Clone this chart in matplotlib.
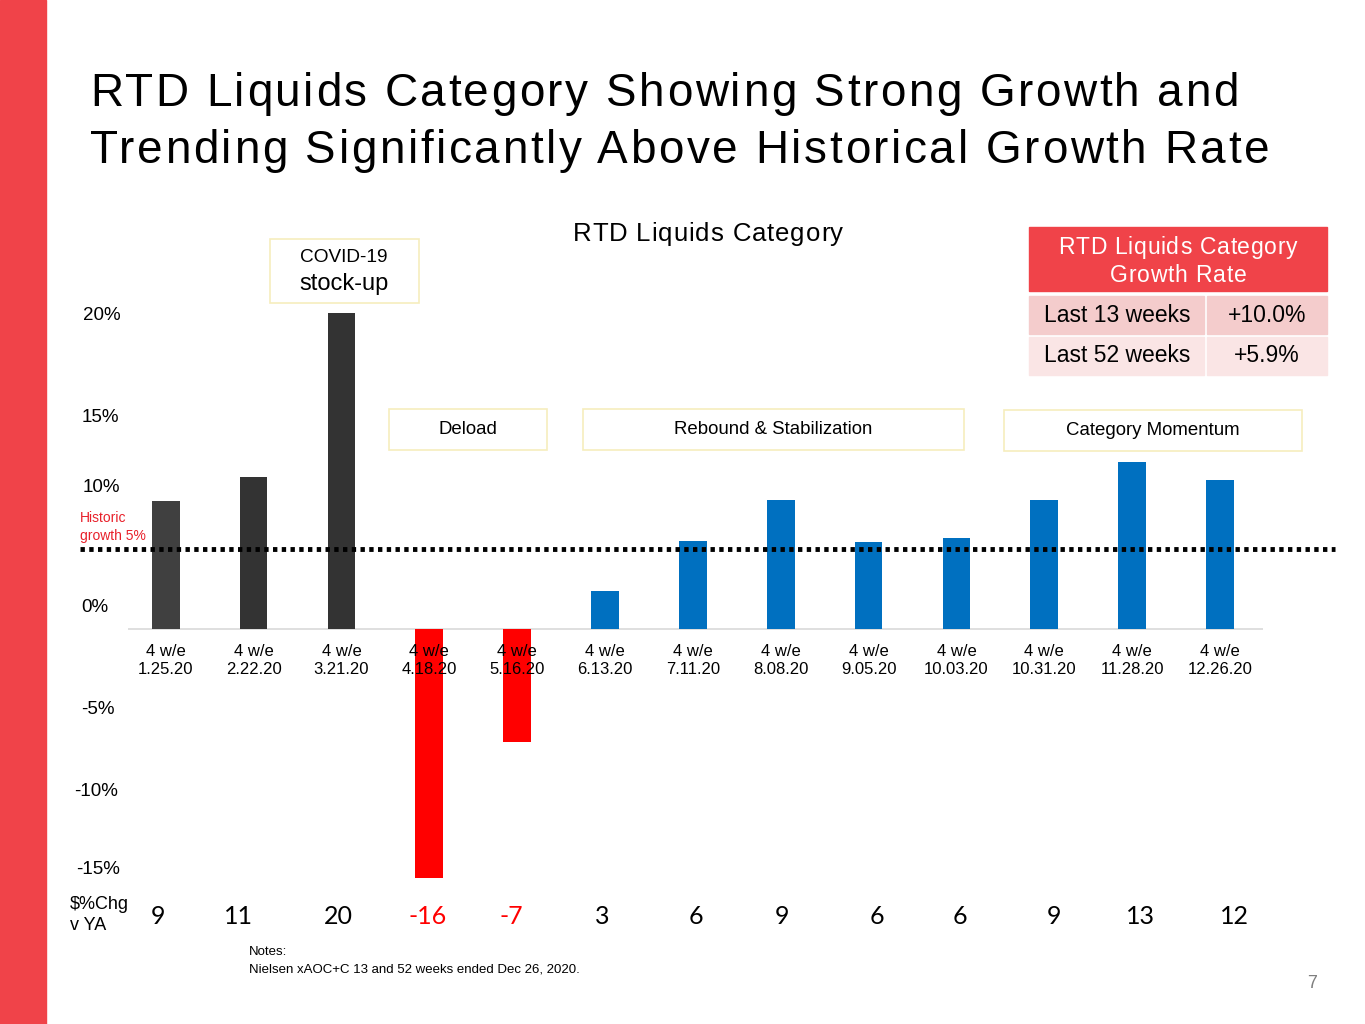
import matplotlib
matplotlib.use("Agg")
import matplotlib.pyplot as plt
from matplotlib.patches import Rectangle
from matplotlib.font_manager import FontProperties

W, H = 1365, 1024

periods = ["1.25.20", "2.22.20", "3.21.20", "4.18.20", "5.16.20", "6.13.20", "7.11.20",
           "8.08.20", "9.05.20", "10.03.20", "10.31.20", "11.28.20", "12.26.20"]
growth = [8.1, 9.6, 20.0, -15.75, -7.15, 2.4, 5.6, 8.15, 5.5, 5.75, 8.15, 10.6, 9.4]
chg_labels = ["9", "11", "20", "-16", "-7", "3", "6", "9", "6", "6", "9", "13", "12"]
bar_colors = ["#404040", "#333333", "#333333", "#FF0000", "#FF0000"] + ["#0070C0"] * 8
historic = 5.05

ytick_labels = ["20%", "15%", "10%", "0%", "-5%", "-10%", "-15%"]
table_rows = [("Last 13 weeks", "+10.0%"), ("Last 52 weeks", "+5.9%")]

# slide layout (pixel positions taken from the slide)
ytick_px = [(102, 316), (100, 417), (101, 487), (95, 607), (98, 710), (96, 791), (98, 869)]
chg_x_px = [158, 238, 338, 428, 511, 602, 696, 782, 877, 960, 1054, 1140, 1234]

plt.rcParams["font.family"] = ["Liberation Sans", "DejaVu Sans"]


def fx(x):
    return x / W


def fy(y):
    return 1 - y / H


fig = plt.figure(figsize=(W / 100, H / 100), dpi=100)
renderer = fig.canvas.get_renderer()


def tracked_text(x, y, s, size, track, ha="left", color="black"):
    # text with extra letter spacing, like the slide's titles
    prop = FontProperties(family="Liberation Sans", size=size)

    def width(t):
        return renderer.get_text_width_height_descent(t, prop, ismath=False)[0]

    total = width(s) + track * (len(s) - 1)
    x0 = x - total / 2 if ha == "center" else x
    for i, ch in enumerate(s):
        if ch == " ":
            continue
        off = width(s[:i + 1]) - width(ch) + track * i
        fig.text(fx(x0 + off), fy(y), ch, fontproperties=prop, color=color,
                 ha="left", va="baseline")


# red band at the left
fig.patches.append(Rectangle((0, 0), fx(46), 1, transform=fig.transFigure,
                             color="#F04349", zorder=0))

tracked_text(90, 106, "RTD Liquids Category Showing Strong Growth and", 33, 2.5)
tracked_text(90, 163, "Trending Significantly Above Historical Growth Rate", 33, 2.6)

# chart area
y_lo, y_hi = -16, 20.5
px_per = 15.8
top = 629 - y_hi * px_per
bot = 629 - y_lo * px_per
ax = fig.add_axes([fx(128), fy(bot), fx(1263) - fx(128), (bot - top) / H])
x = list(range(len(periods)))
ax.bar(x, growth, width=0.315, color=bar_colors, zorder=2)
ax.set_xlim(-0.43, 12.49)
ax.set_ylim(y_lo, y_hi)
ax.axhline(0, color="#D9D9D9", lw=1.2, zorder=1)
ax.plot([-0.98, 13.31], [historic, historic], color="black", lw=3.5,
        linestyle=(0, (0.9, 0.9)), clip_on=False, zorder=3)
ax.axis("off")

for i, p in enumerate(periods):
    ax.text(i, -0.95, "4 w/e\n" + p, ha="center", va="top", fontsize=12,
            linespacing=1.25, zorder=4)

tracked_text(708, 241, "RTD Liquids Category", 18.5, 0.9, ha="center")

for lab, (px, py) in zip(ytick_labels, ytick_px):
    fig.text(fx(px), fy(py), lab, fontsize=13.5, ha="center", va="center")

fig.text(fx(80), fy(527), "Historic\ngrowth 5%", color="#E8202A", fontsize=10,
         ha="left", va="center", linespacing=1.3)

# phase boxes
boxes = [
    (270, 239, 419, 303, None),
    (389, 409, 547, 450, "Deload"),
    (583, 409, 964, 450, "Rebound & Stabilization"),
    (1004, 410, 1302, 451, "Category Momentum"),
]
for x0, y0, x1, y1, label in boxes:
    fig.patches.append(Rectangle((fx(x0), fy(y1)), fx(x1) - fx(x0), (y1 - y0) / H,
                                 transform=fig.transFigure, facecolor="white",
                                 edgecolor="#F6EDBE", lw=1.2, zorder=1))
    if label:
        fig.text(0.5 * (fx(x0) + fx(x1)), fy(0.5 * (y0 + y1)), label,
                 fontsize=13.4, ha="center", va="center")
fig.text(fx(344), fy(258), "COVID-19", fontsize=13.7, ha="center", va="center")
fig.text(fx(344), fy(284), "stock-up", fontsize=17, ha="center", va="center")

# growth rate table
fig.patches.append(Rectangle((fx(1029), fy(291)), fx(1327) - fx(1029), 64 / H,
                             transform=fig.transFigure, color="#F04349", zorder=1))
tracked_text(1178, 254, "RTD Liquids Category", 16.5, 0.8, ha="center", color="white")
tracked_text(1178, 282, "Growth Rate", 16.5, 0.8, ha="center", color="white")
row_y = [(296, 334), (337, 375)]
row_colors = ["#F4CCCC", "#FAE5E5"]
for (label, val), (y0, y1), c in zip(table_rows, row_y, row_colors):
    fig.patches.append(Rectangle((fx(1029), fy(y1)), fx(1204) - fx(1029), (y1 - y0) / H,
                                 transform=fig.transFigure, color=c, zorder=1))
    fig.patches.append(Rectangle((fx(1207), fy(y1)), fx(1327) - fx(1207), (y1 - y0) / H,
                                 transform=fig.transFigure, color=c, zorder=1))
    fig.text(fx(1117), fy(0.5 * (y0 + y1)), label, fontsize=16.5, ha="center", va="center")
    fig.text(fx(1267), fy(0.5 * (y0 + y1)), val, fontsize=16.5, ha="center", va="center")

# $%Chg row
fig.text(fx(70), fy(915), "$%Chg\nv YA", fontsize=13, ha="left", va="center",
         linespacing=1.3)
for lab, px, c in zip(chg_labels, chg_x_px, growth):
    fig.text(fx(px), fy(916), lab, fontsize=18, family=["Lato", "DejaVu Sans"],
             color="#FF0000" if c < 0 else "black", ha="center", va="center")

fig.text(fx(249), fy(952), "Notes:", fontsize=9.5, ha="left", va="center")
fig.text(fx(249), fy(969), "Nielsen xAOC+C 13 and 52 weeks ended Dec 26, 2020.",
         fontsize=9.5, ha="left", va="center")
fig.text(fx(1312), fy(984), "7", fontsize=13, color="#7F7F7F", ha="center", va="center")

fig.savefig("out.png", dpi=100)
